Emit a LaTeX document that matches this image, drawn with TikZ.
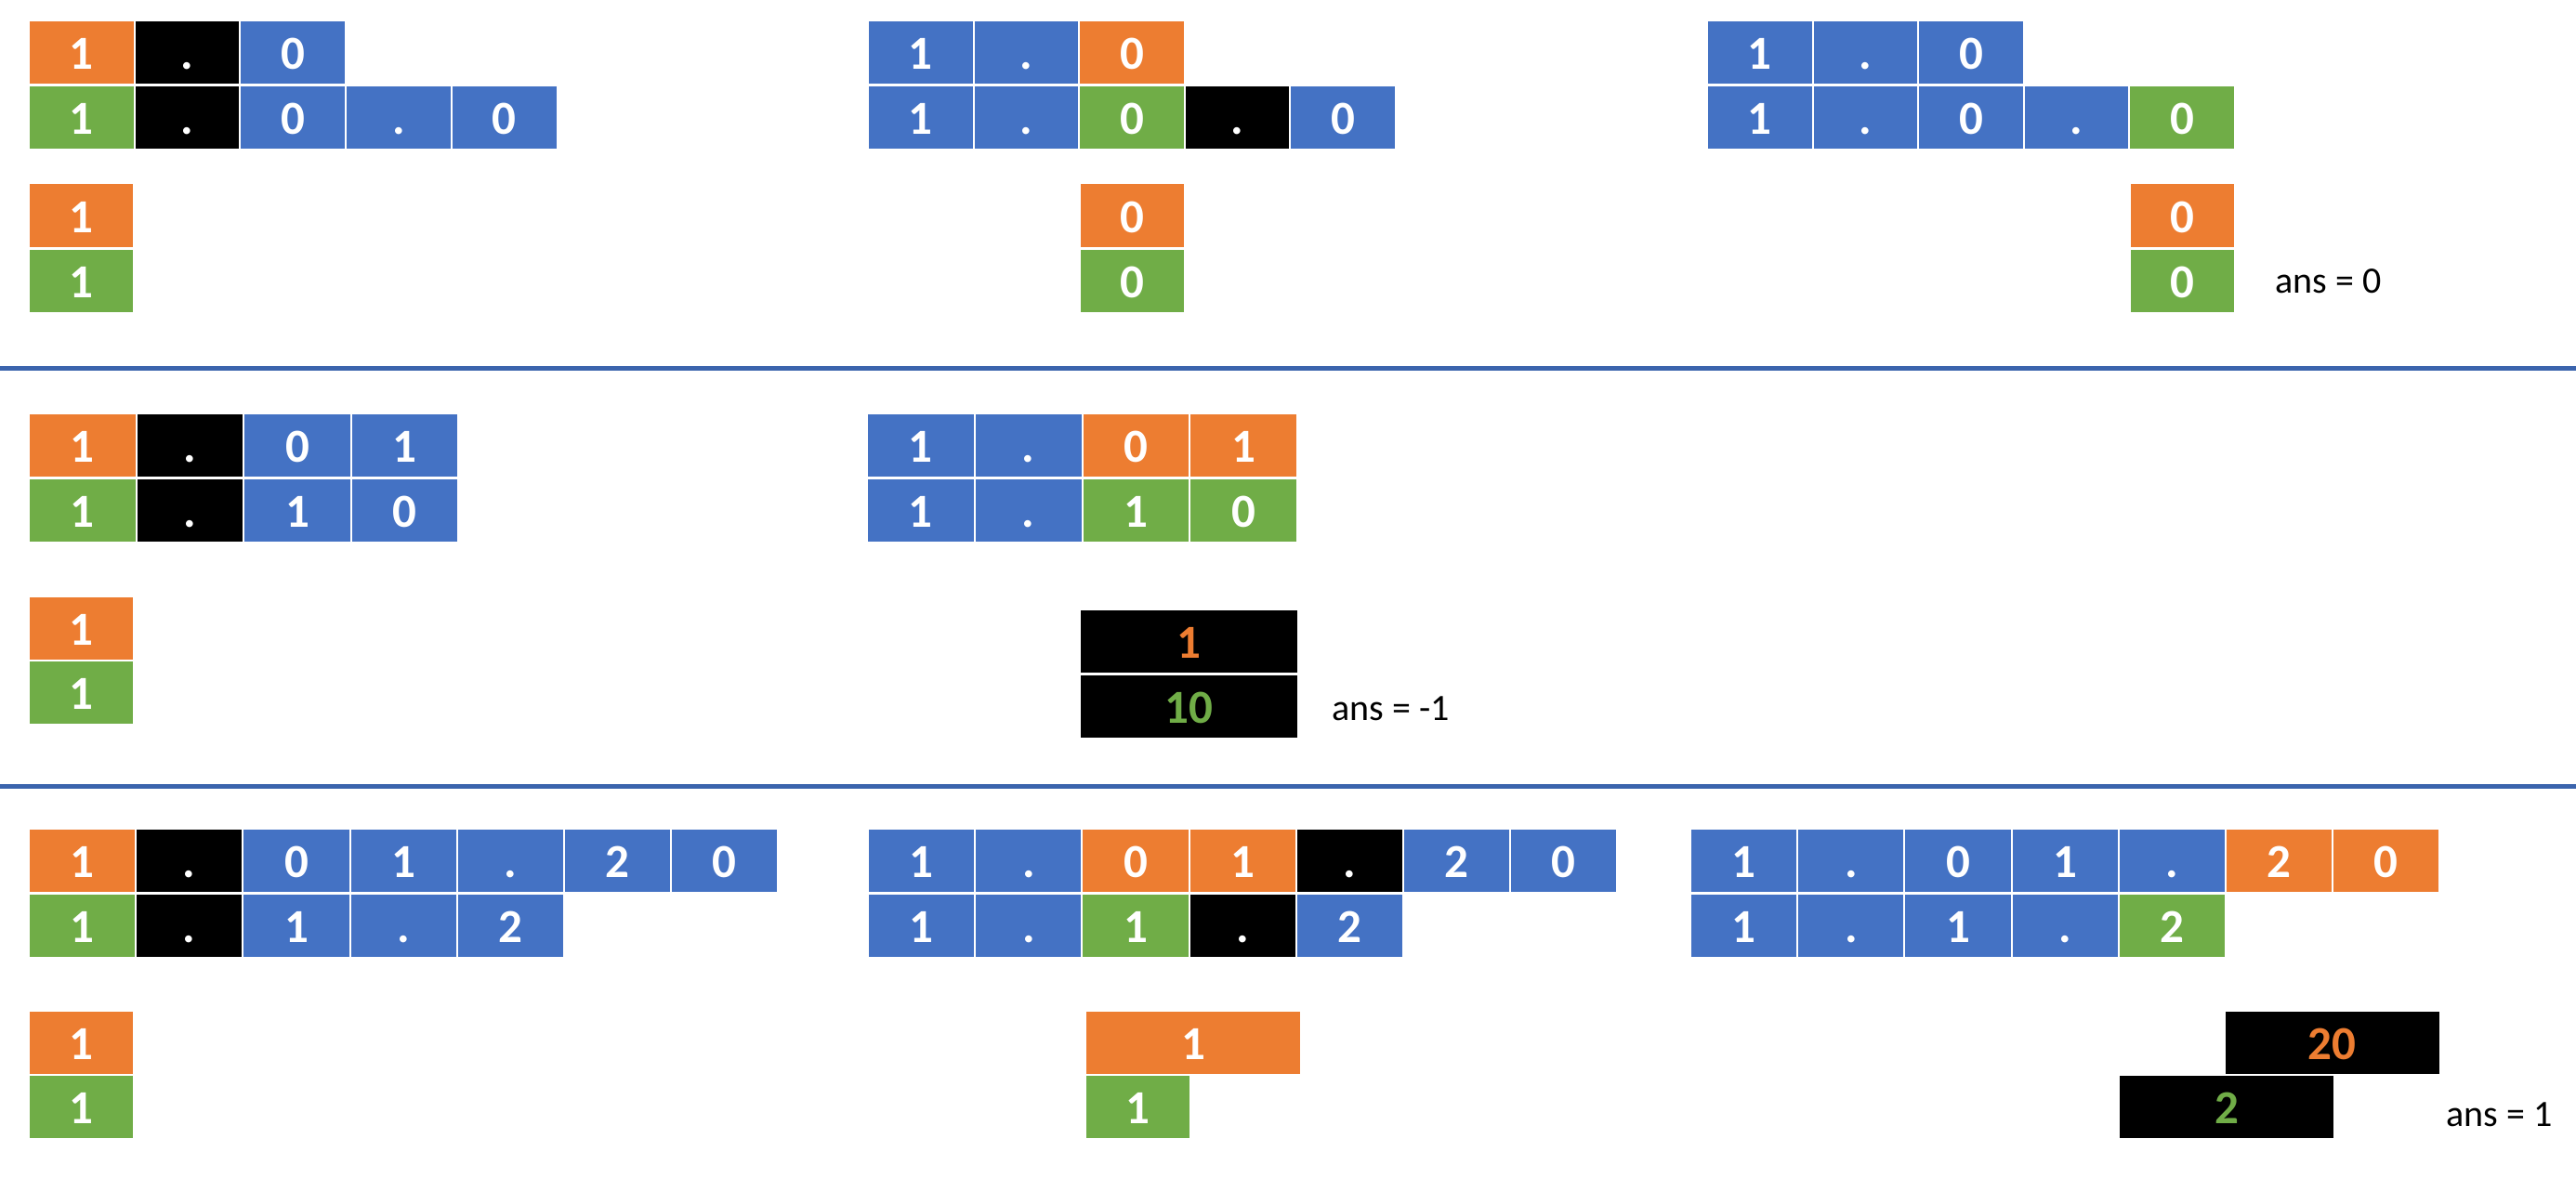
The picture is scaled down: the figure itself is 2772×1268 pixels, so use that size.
\documentclass[tikz,border=0pt]{standalone}
\usepackage{fontspec}
\setmainfont{Carlito}
\definecolor{cor}{HTML}{ED7D31}
\definecolor{cgr}{HTML}{70AD47}
\definecolor{cbl}{HTML}{4472C4}
\definecolor{cline}{HTML}{3B64AD}
\tikzset{
  cell/.style={anchor=north west, draw=white, line width=2pt, inner sep=0pt,
    minimum height=69pt, text=white,
    font=\bfseries\fontsize{51}{51}\selectfont, text height=36pt, text depth=0pt},
  seprule/.style={draw=cline, line width=5pt},
  anstext/.style={anchor=west, inner sep=0pt, font=\fontsize{40}{40}\selectfont}
}
\newcommand\cellrow[5]{%
  \foreach \c/\t [count=\i from 0] in {#5} {
    \node[cell, fill=\c, minimum width=#4pt] (#1\i) at ({#2+\i*#4},#3) {\t};
  }}
\begin{document}
\begin{tikzpicture}[x=1pt,y=-1pt]
\path[use as bounding box, fill=white] (0,0) rectangle (2772,1268);

% ---------- section 1 ----------
\cellrow{aat}{30}{21.5}{113.7}{cor/1, black/., cbl/0}
\cellrow{aab}{30}{91.5}{113.7}{cgr/1, black/., cbl/0, cbl/., cbl/0}
\cellrow{aas}{30}{196.5}{112.5}{cor/1}
\cellrow{aau}{30}{266.5}{112.5}{cgr/1}

\cellrow{abt}{933}{21.5}{113.6}{cbl/1, cbl/., cor/0}
\cellrow{abb}{933}{91.5}{113.6}{cbl/1, cbl/., cgr/0, black/., cbl/0}
\cellrow{abs}{1161}{196.5}{112.5}{cor/0}
\cellrow{abu}{1161}{266.5}{112.5}{cgr/0}

\cellrow{act}{1836}{21.5}{113.6}{cbl/1, cbl/., cbl/0}
\cellrow{acb}{1836}{91.5}{113.6}{cbl/1, cbl/., cbl/0, cbl/., cgr/0}
\cellrow{acs}{2290.5}{196.5}{113.5}{cor/0}
\cellrow{acu}{2290.5}{266.5}{113.5}{cgr/0}
\node[anstext] (ans1) at (2448,303) {ans = 0};

\coordinate (s1l) at (0,396);
\coordinate (s1r) at (2772,396);
\draw[seprule] (s1l) -- (s1r);

% ---------- section 2 ----------
\cellrow{bat}{30}{443.5}{115.6}{cor/1, black/., cbl/0, cbl/1}
\cellrow{bab}{30}{513.5}{115.6}{cgr/1, black/., cbl/1, cbl/0}
\cellrow{bas}{30}{640.5}{113}{cor/1}
\cellrow{bau}{30}{709.5}{113}{cgr/1}

\cellrow{bbt}{932}{443.5}{115.8}{cbl/1, cbl/., cor/0, cor/1}
\cellrow{bbb}{932}{513.5}{115.8}{cbl/1, cbl/., cgr/1, cgr/0}
\node[cell, fill=black, minimum width=234.5pt, text=cor] (bbs) at (1161,654.5) {1};
\node[cell, fill=black, minimum width=234.5pt, text=cgr] (bbu) at (1161,724.5) {10};
\node[anstext] (ans2) at (1433,763) {ans = -1};

\coordinate (s2l) at (0,846);
\coordinate (s2r) at (2772,846);
\draw[seprule] (s2l) -- (s2r);

% ---------- section 3 ----------
\cellrow{cat}{30}{890.5}{115.2}{cor/1, black/., cbl/0, cbl/1, cbl/., cbl/2, cbl/0}
\cellrow{cab}{30}{960.5}{115.2}{cgr/1, black/., cbl/1, cbl/., cbl/2}
\cellrow{cas}{30}{1086.5}{113}{cor/1}
\cellrow{cau}{30}{1156}{113}{cgr/1}

\cellrow{cbt}{933}{890.5}{115.2}{cbl/1, cbl/., cor/0, cor/1, black/., cbl/2, cbl/0}
\cellrow{cbb}{933}{960.5}{115.2}{cbl/1, cbl/., cgr/1, black/., cbl/2}
\cellrow{cbs}{1167}{1086.5}{232}{cor/1}
\cellrow{cbu}{1167}{1156}{113}{cgr/1}

\cellrow{cct}{1818}{890.5}{115.2}{cbl/1, cbl/., cbl/0, cbl/1, cbl/., cor/2, cor/0}
\cellrow{ccb}{1818}{960.5}{115.2}{cbl/1, cbl/., cbl/1, cbl/., cgr/2}
\node[cell, fill=black, minimum width=232pt, text=cor] (ccs) at (2392.5,1086.5) {20};
\node[cell, fill=black, minimum width=232pt, text=cgr] (ccu) at (2279,1156) {2};
\node[anstext] (ans3) at (2632,1200) {ans = 1};
\end{tikzpicture}
\end{document}
